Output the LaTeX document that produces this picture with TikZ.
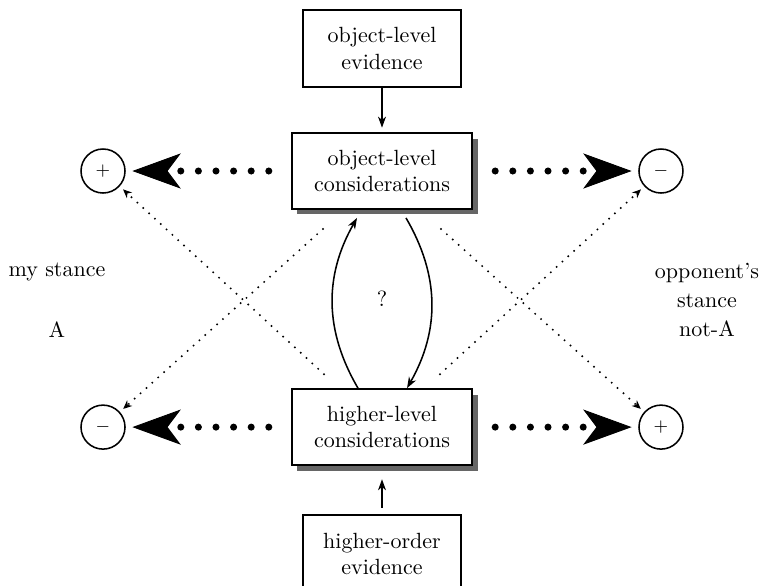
\documentclass[tikz,border=0pt]{standalone}
\usepackage{amsmath}
\usepackage{tikz}
\usetikzlibrary{arrows.meta,positioning,calc,shadows}
\tikzstyle{considbox} = [rectangle, draw, line width=0.9pt, fill=white, minimum width=82pt, minimum height=34.5pt, align=center, drop shadow={shadow xshift=2.5pt, shadow yshift=-2.5pt, fill=black!60, opacity=1}]
\tikzstyle{evidbox} = [rectangle, draw, line width=0.9pt, minimum width=72pt, minimum height=35pt, align=center]
\tikzstyle{valence} = [circle, draw, line width=0.7pt, minimum size=20pt, inner sep=0pt, font=\footnotesize]
\tikzstyle{bigdots} = [line width=3.2pt, line cap=round, dash pattern=on 0pt off 8pt, -{Stealth[length=22pt,width=16pt,inset=6pt,line width=0.4pt]}, shorten <=10pt, shorten >=3pt]
\tikzstyle{thindots} = [line width=1pt, line cap=round, dash pattern=on 0pt off 3.6pt, -{Stealth[length=4pt,width=3.5pt,line width=0.5pt]}, shorten >=2pt]
\tikzstyle{feed} = [line width=0.7pt, -{Stealth[length=5pt,width=3.6pt,inset=1.5pt]}]

\begin{document}
\begin{tikzpicture}[x=0.4545pt, y=-0.4545pt]
\useasboundingbox (0,0) rectangle (764,585);

% the two kinds of considerations
\node[considbox] (ocons) at (382,171) {object-level\\considerations};
\node[considbox, below=81pt of ocons] (hcons) {higher-level\\considerations};

% evidence feeding them
\node[evidbox, above=20pt of ocons] (oevid) {object-level\\evidence};
\node[evidbox, below=22pt of hcons] (hevid) {higher-order\\evidence};

% stances
\node[valence, left=75pt of ocons] (lplus) {$+$};
\node[valence, right=75pt of ocons] (rminus) {$-$};
\node[valence, left=75pt of hcons] (lminus) {$-$};
\node[valence, right=75pt of hcons] (rplus) {$+$};

\node (mine) at (57,272) {my stance};
\node (mineA) at (57,330) {A};
\node[align=center] (theirs) at (707,300) {opponent's\\[1pt]stance\\[1pt]not-A};

\node (qm) at ($(ocons.south)!0.5!(hcons.north)$) {?};

\draw[feed, shorten >=2pt] (oevid) -- (ocons);
\draw[feed, shorten <=3pt, shorten >=6pt] (hevid) -- (hcons);

\draw[bigdots] (ocons.west) -- (lplus);
\draw[bigdots] (ocons.east) -- (rminus);
\draw[bigdots] (hcons.west) -- (lminus);
\draw[bigdots] (hcons.east) -- (rplus);

\draw[thindots] ($(ocons.south)+(-59,19)$) -- (lminus);
\draw[thindots] ($(ocons.south)+(59,19)$) -- (rplus);
\draw[thindots] ($(hcons.north)+(-58,-14)$) -- (lplus);
\draw[thindots] ($(hcons.north)+(58,-14)$) -- (rminus);

\draw[feed] ($(hcons.north)+(-24,0)$) to[bend left=30] ($(ocons.south)+(-25,8)$);
\draw[feed] ($(ocons.south)+(24,8)$) to[bend left=30] ($(hcons.north)+(25,0)$);
\end{tikzpicture}
\end{document}
